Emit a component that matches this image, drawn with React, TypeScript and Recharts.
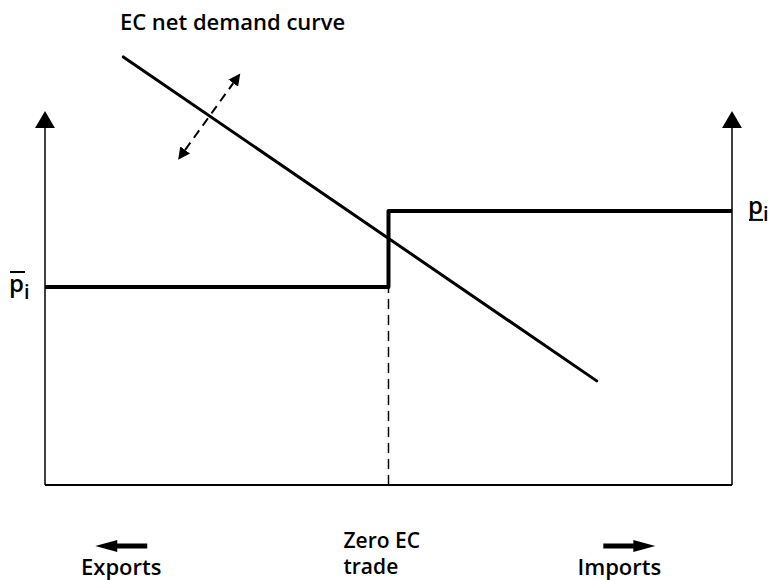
import { ComposedChart, Line, ReferenceDot, XAxis, YAxis } from "recharts";

// schematic coordinates: x = trade position (0..100), y = price level (0..100)
const lowerPrice = 44.5;
const upperPrice = 61.6;
const zeroTrade = 50;

const priceSchedule = [
  { x: 0, y: lowerPrice },
  { x: zeroTrade, y: lowerPrice },
  { x: zeroTrade, y: upperPrice },
  { x: 100, y: upperPrice },
];
const demandCurve = [
  { x: 11.4, y: 96.2 },
  { x: 80.3, y: 23.4 },
];
const shiftArrow = [
  { x: 20.4, y: 75.3 },
  { x: 27.4, y: 90.3 },
];
const zeroTradeGuide = [
  { x: zeroTrade, y: 0 },
  { x: zeroTrade, y: lowerPrice },
];
const leftAxis = [
  { x: 0, y: 0 },
  { x: 0, y: 80.2 },
];
const rightAxis = [
  { x: 100, y: 0 },
  { x: 100, y: 80.2 },
];

const tickValues = [11.1, zeroTrade, 83.6];
const tickLabels = [["Exports"], ["Zero EC", "trade"], ["Imports"]];
const tickArrows = ["left", "none", "right"];

const titleLabel = "EC net demand curve";
const titlePos = { x: 10.9, y: 102.2 };

const FONT = "'Open Sans', 'Noto Sans', sans-serif";
const textStyle = { fontFamily: FONT, fontSize: 22, fontWeight: 600, fill: "#000" };

function BottomTick(props: any) {
  const { x, y, index } = props;
  const lines = tickLabels[index] || [];
  const arrow = tickArrows[index];
  const ay = y + 53;
  return (
    <g>
      {arrow === "left" ? (
        <path
          d={`M${x - 26},${ay} L${x - 4},${ay - 6} L${x - 4},${ay - 2.5} L${x + 26},${ay - 2.5} L${x + 26},${ay + 2.5} L${x - 4},${ay + 2.5} L${x - 4},${ay + 6} Z`}
          fill="#000"
        />
      ) : null}
      {arrow === "right" ? (
        <path
          d={`M${x + 36},${ay} L${x + 14},${ay - 6} L${x + 14},${ay - 2.5} L${x - 16},${ay - 2.5} L${x - 16},${ay + 2.5} L${x + 14},${ay + 2.5} L${x + 14},${ay + 6} Z`}
          fill="#000"
        />
      ) : null}
      {lines.length === 2 ? (
        <>
          <text x={x - 45} y={y + 55} textAnchor="start" {...textStyle} fontSize={21}>
            {lines[0]}
          </text>
          <text x={x - 45} y={y + 81} textAnchor="start" {...textStyle} fontSize={21}>
            {lines[1]}
          </text>
        </>
      ) : (
        <text x={x} y={y + 82} textAnchor="middle" {...textStyle}>
          {lines[0]}
        </text>
      )}
    </g>
  );
}

export default function App() {
  return (
    <div style={{ position: "absolute", left: 0, top: 0, background: "#fff" }}>
      <ComposedChart width={772} height={580} margin={{ top: 40, right: 40, bottom: 0, left: 45 }}>
        <defs>
          <marker
            id="axisHead"
            markerUnits="userSpaceOnUse"
            markerWidth={18}
            markerHeight={20}
            refX={0}
            refY={10}
            orient="auto"
          >
            <path d="M0,0 L17,10 L0,20 Z" fill="#000" />
          </marker>
          <marker
            id="shiftHead"
            markerUnits="userSpaceOnUse"
            markerWidth={13}
            markerHeight={12}
            refX={0}
            refY={6}
            orient="auto-start-reverse"
          >
            <path d="M0,0 L12,6 L0,12 Z" fill="#000" />
          </marker>
        </defs>
        <XAxis
          type="number"
          dataKey="x"
          domain={[0, 100]}
          ticks={tickValues}
          height={95}
          axisLine={{ stroke: "#000", strokeWidth: 2 }}
          tickLine={false}
          tick={<BottomTick />}
          interval={0}
        />
        <YAxis type="number" dataKey="y" domain={[0, 100]} hide />
        <Line
          data={leftAxis}
          dataKey="y"
          stroke="#000"
          strokeWidth={1.5}
          dot={false}
          activeDot={false}
          markerEnd="url(#axisHead)"
          isAnimationActive={false}
        />
        <Line
          data={rightAxis}
          dataKey="y"
          stroke="#000"
          strokeWidth={1.5}
          dot={false}
          activeDot={false}
          markerEnd="url(#axisHead)"
          isAnimationActive={false}
        />
        <Line
          data={zeroTradeGuide}
          dataKey="y"
          stroke="#000"
          strokeWidth={1.5}
          strokeDasharray="10 6"
          dot={false}
          activeDot={false}
          isAnimationActive={false}
        />
        <Line
          data={priceSchedule}
          dataKey="y"
          type="linear"
          stroke="#000"
          strokeWidth={4}
          strokeLinejoin="round"
          dot={false}
          activeDot={false}
          isAnimationActive={false}
        />
        <Line
          data={demandCurve}
          dataKey="y"
          type="linear"
          stroke="#000"
          strokeWidth={3}
          strokeLinecap="round"
          dot={false}
          activeDot={false}
          isAnimationActive={false}
        />
        <Line
          data={shiftArrow}
          dataKey="y"
          type="linear"
          stroke="#000"
          strokeWidth={2}
          strokeDasharray="9 6"
          dot={false}
          activeDot={false}
          markerStart="url(#shiftHead)"
          markerEnd="url(#shiftHead)"
          isAnimationActive={false}
        />
        <ReferenceDot
          x={titlePos.x}
          y={titlePos.y}
          ifOverflow="visible"
          shape={(p: any) => (
            <text x={p.cx} y={p.cy} {...textStyle}>
              {titleLabel}
            </text>
          )}
        />
        <ReferenceDot
          x={0}
          y={lowerPrice}
          ifOverflow="visible"
          shape={(p: any) => (
            <g>
              <line x1={p.cx - 35} x2={p.cx - 20} y1={p.cy - 15} y2={p.cy - 15} stroke="#000" strokeWidth={2} />
              <text x={p.cx - 36} y={p.cy + 5} fontFamily={FONT} fontSize={24} fontWeight={600} fill="#000">
                p
                <tspan fontSize={20} dy={7}>
                  i
                </tspan>
              </text>
            </g>
          )}
        />
        <ReferenceDot
          x={100}
          y={upperPrice}
          ifOverflow="visible"
          shape={(p: any) => (
            <g>
              <line x1={p.cx + 17} x2={p.cx + 31} y1={p.cy + 9} y2={p.cy + 9} stroke="#000" strokeWidth={2} />
              <text x={p.cx + 16} y={p.cy + 3} fontFamily={FONT} fontSize={24} fontWeight={600} fill="#000">
                p
                <tspan fontSize={20} dy={7}>
                  i
                </tspan>
              </text>
            </g>
          )}
        />
      </ComposedChart>
    </div>
  );
}
